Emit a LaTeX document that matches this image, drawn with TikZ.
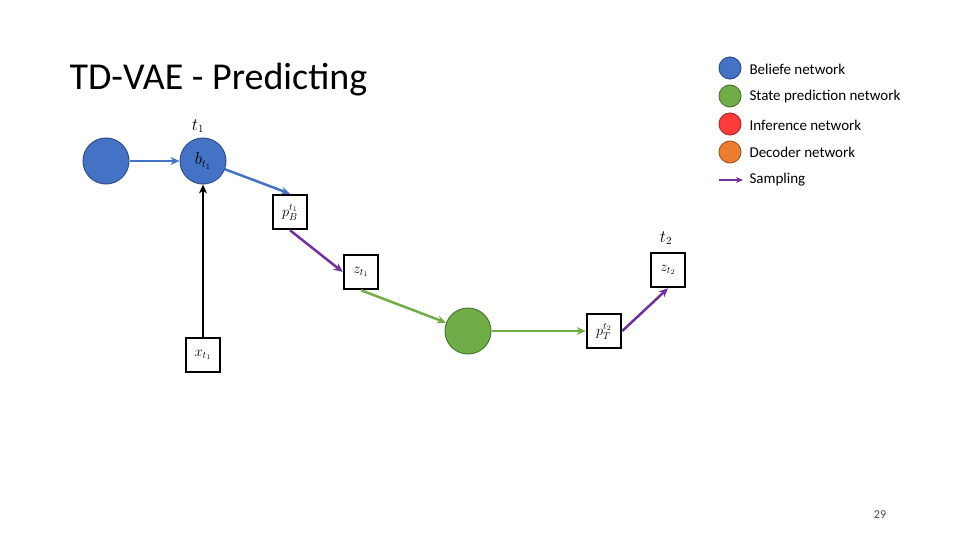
\documentclass[tikz,border=0pt]{standalone}
\usepackage{fontspec}
\setmainfont{Carlito}
\usetikzlibrary{arrows.meta}
\definecolor{cblue}{HTML}{4472C4}
\definecolor{cgreen}{HTML}{70AD47}
\definecolor{cred}{HTML}{FF3B3B}
\definecolor{corange}{HTML}{ED7D31}
\definecolor{cpurple}{HTML}{7030A0}
\begin{document}
\begin{tikzpicture}[x=1pt,y=-1pt,
  circ/.style={circle,minimum size=46pt,inner sep=0pt,line width=1pt},
  boxn/.style={draw=black,line width=2.5pt,fill=white,minimum size=34pt,inner sep=0pt,font=\fontsize{14}{14}\selectfont},
  leg/.style={circle,minimum size=22pt,inner sep=0pt,line width=1pt},
  legt/.style={anchor=west,font=\fontsize{15}{15}\selectfont},
  arr/.style={line width=2.5pt,-{Stealth[length=9pt,width=8pt]}}]
\useasboundingbox (0,0) rectangle (960,540);
\node[anchor=west,font=\fontsize{38}{38}\selectfont] (title) at (66,80) {TD-VAE - Predicting};
\node[circ,fill=cblue,draw=cblue!70!black] (b0) at (106,161) {};
\node[circ,fill=cblue,draw=cblue!70!black,font=\fontsize{16}{16}\selectfont] (b1) at (203,161) {$b_{t_1}$};
\node[font=\fontsize{16}{16}\selectfont] (t1) at (198,126) {$t_1$};
\node[boxn] (pb) at (290,212) {$p_B^{t_1}$};
\node[boxn] (z1) at (361,272) {$z_{t_1}$};
\node[boxn] (x1) at (203,355) {$x_{t_1}$};
\node[circ,fill=cgreen,draw=cgreen!70!black] (g) at (468,331) {};
\node[boxn] (pt) at (604,331) {$p_T^{t_2}$};
\node[boxn] (z2) at (668,270) {$z_{t_2}$};
\node[font=\fontsize{16}{16}\selectfont] (t2) at (666,238) {$t_2$};
\draw[arr,cblue] (b0) -- (b1);
\draw[arr,black] (x1) -- (b1);
\draw[arr,cblue] (b1) -- (pb.north);
\draw[arr,cpurple] (pb.south) -- (z1.west);
\draw[arr,cgreen] (z1.south) -- (g);
\draw[arr,cgreen] (g) -- (pt);
\draw[arr,cpurple] (pt.east) -- (z2.south);
\node[leg,fill=cblue,draw=cblue!70!black] (l1) at (730,68) {};
\node[leg,fill=cgreen,draw=cgreen!70!black] (l2) at (730,96) {};
\node[leg,fill=cred,draw=cred!70!black] (l3) at (730,124) {};
\node[leg,fill=corange,draw=corange!70!black] (l4) at (730,152) {};
\coordinate (s0) at (719,180); \coordinate (s1) at (743,180);
\draw[cpurple,line width=2pt,-{Stealth[length=7pt,width=6pt]}] (s0) -- (s1);
\node[legt] (tl1) at (746,69) {Beliefe network};
\node[legt] (tl2) at (746,97) {State prediction network};
\node[legt] (tl3) at (746,125) {Inference network};
\node[legt] (tl4) at (746,152) {Decoder network};
\node[legt] (tl5) at (746,180) {Sampling};
\node[font=\fontsize{12}{12}\selectfont,text=black!70] (pg) at (880,515) {29};
\end{tikzpicture}
\end{document}
